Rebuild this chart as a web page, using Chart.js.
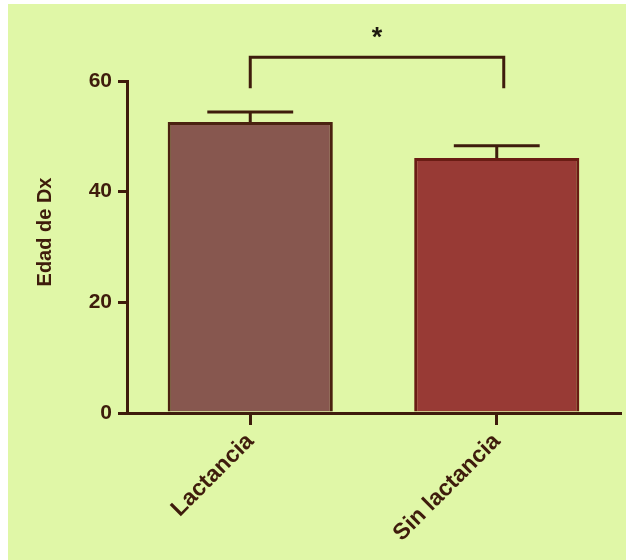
<!DOCTYPE html>
<html>
<head>
<meta charset="utf-8">
<style>
  html, body { margin: 0; padding: 0; background: #fff; }
  canvas { display: block; }
</style>
<script src="https://cdn.jsdelivr.net/npm/chart.js@4.4.1/dist/chart.umd.min.js"></script>
</head>
<body>
<canvas id="edad-chart" width="626" height="560"></canvas>
<script>
// Edad al diagnóstico: lactancia vs sin lactancia (media + error superior)

const categories = ["Lactancia", "Sin lactancia"];
const meanAge = [52.6, 46.1];
const errUpper = [54.4, 48.3];      // extremo superior de la barra de error
const yTicks = [0, 20, 40, 60];
const sigLevel = 64.3;              // altura del corchete de significancia
const sigFoot = 58.7;               // donde terminan las patas del corchete
const sigMark = "*";

const INK = "#3e1c0c";
const BG = "#e0f7a7";
const FONT = "'Liberation Sans', Arial, sans-serif";

const fills = ["#87574f", "#983a35"];
const borders = ["#4a2210", "#6a1c14"];

// fondo verde claro del panel
const panelBg = {
  id: "panelBg",
  beforeDraw(chart) {
    const ctx = chart.ctx;
    ctx.save();
    ctx.fillStyle = "#ffffff";
    ctx.fillRect(0, 0, chart.width, chart.height);
    ctx.fillStyle = BG;
    ctx.fillRect(8, 4, chart.width - 8, chart.height - 4);
    ctx.restore();
  },
};

// barras de error, corchete, asterisco y título del eje Y
const extras = {
  id: "extras",
  afterDatasetsDraw(chart) {
    const ctx = chart.ctx;
    const y = chart.scales.y;
    const x = chart.scales.x;
    const bars = chart.getDatasetMeta(0).data;
    ctx.save();
    ctx.strokeStyle = INK;
    ctx.lineWidth = 3;
    ctx.lineCap = "butt";
    bars.forEach((bar, i) => {
      const top = y.getPixelForValue(meanAge[i]);
      const hi = y.getPixelForValue(errUpper[i]);
      const half = bar.width * 0.26;
      ctx.beginPath();
      ctx.moveTo(bar.x, top);
      ctx.lineTo(bar.x, hi);
      ctx.moveTo(bar.x - half, hi);
      ctx.lineTo(bar.x + half, hi);
      ctx.stroke();
    });

    const x0 = x.getPixelForValue(0);
    const x1 = x.getPixelForValue(1) + 7;
    const yl = y.getPixelForValue(sigLevel);
    const yf = y.getPixelForValue(sigFoot);
    ctx.beginPath();
    ctx.moveTo(x0, yf);
    ctx.lineTo(x0, yl);
    ctx.lineTo(x1, yl);
    ctx.lineTo(x1, yf);
    ctx.stroke();

    ctx.fillStyle = "#1e1a10";
    ctx.font = "bold 27px " + FONT;
    ctx.textAlign = "center";
    ctx.textBaseline = "middle";
    ctx.fillText(sigMark, (x0 + x1) / 2, yl - 19);

    ctx.translate(45, 232);
    ctx.rotate(-Math.PI / 2);
    ctx.fillStyle = INK;
    ctx.font = "bold 20px " + FONT;
    ctx.fillText("Edad de Dx", 0, 0);
    ctx.restore();
  },
};

new Chart(document.getElementById("edad-chart"), {
  type: "bar",
  data: {
    labels: categories,
    datasets: [{
      data: meanAge,
      backgroundColor: fills,
      borderColor: borders,
      borderWidth: 3,
      borderSkipped: "bottom",
      categoryPercentage: 1,
      barPercentage: 0.67,
    }],
  },
  options: {
    responsive: false,
    animation: false,
    layout: { padding: { top: 81, right: 6, left: 0, bottom: 0 } },
    plugins: { legend: { display: false }, tooltip: { enabled: false } },
    scales: {
      y: {
        min: 0,
        max: 60,
        afterFit(scale) { scale.width = 127; },
        afterBuildTicks(scale) { scale.ticks = yTicks.map((v) => ({ value: v })); },
        border: { display: true, color: INK, width: 3 },
        grid: {
          drawOnChartArea: false,
          drawTicks: true,
          tickLength: 9,
          color: INK,
          lineWidth: 3,
        },
        ticks: {
          color: INK,
          padding: 6,
          font: { family: FONT, size: 21, weight: "bold" },
        },
      },
      x: {
        afterFit(scale) { scale.height = 147; },
        border: { display: true, color: INK, width: 3 },
        grid: {
          offset: false,
          drawOnChartArea: false,
          drawTicks: true,
          tickLength: 12,
          color: INK,
          lineWidth: 3,
        },
        ticks: {
          color: INK,
          padding: 3,
          minRotation: 45,
          maxRotation: 45,
          font: { family: FONT, size: 23, weight: "bold" },
        },
      },
    },
  },
  plugins: [panelBg, extras],
});
</script>
</body>
</html>
